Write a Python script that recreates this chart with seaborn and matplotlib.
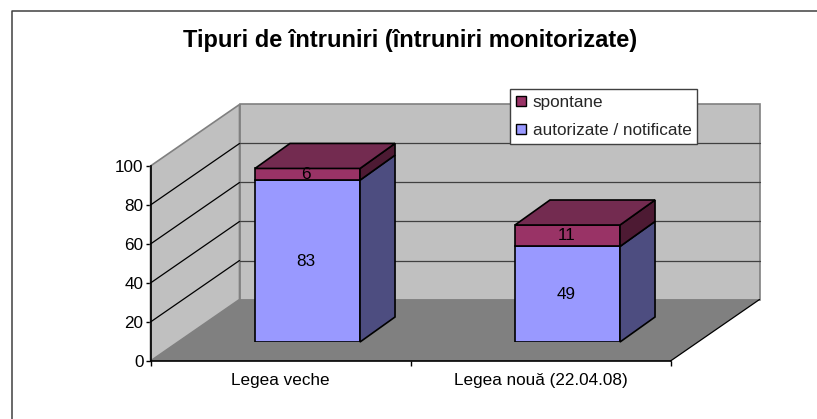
import pandas as pd
import matplotlib
matplotlib.use("Agg")
import matplotlib.pyplot as plt
from matplotlib.lines import Line2D
from matplotlib.patches import Polygon, Patch
import seaborn as sns

# Values
categories = ["Legea veche", "Legea nouă (22.04.08)"]
autorizate = [83, 49]
spontane = [6, 11]
y_ticks = [0, 20, 40, 60, 80, 100]

W, H = 817, 419
BLUE, BLUE_SIDE = "#9999ff", "#4d4d80"
RED, RED_TOP, RED_SIDE = "#993366", "#732b50", "#4d1a33"
FS = 12.3

sns.set_theme(style="white")
plt.rcParams["font.family"] = ["Liberation Sans", "DejaVu Sans"]

fig = plt.figure(figsize=(W / 100, H / 100), dpi=100, facecolor="white")
# only the left and top of the chart border are in the picture
fig.add_artist(Line2D([11.5 / W, 11.5 / W, 1], [0, 1 - 11.5 / H, 1 - 11.5 / H], transform=fig.transFigure,
                      color="#404040", lw=1.1))


def axes_px(left, right, bottom, top):
    return fig.add_axes([left / W, 1 - bottom / H, (right - left) / W, (bottom - top) / H])


# plot frame of the "front" plane, in pixels of the picture
FL, FR, FB, FT = 150.5, 670.5, 361, 166
ax = axes_px(FL, FR, FB, FT)
ax.set_xlim(-0.5, 1.5)
ax.set_ylim(0, 100)
ax.patch.set_alpha(0)
ux, uy = 260.0, 1.95  # px per data unit

# walls and floor
dx, dy = 89 / ux, 61.5 / uy
GREY = "#c0c0c0"
EDGE = "#808080"
ax.add_patch(Polygon([(-0.5 + dx, dy), (1.5 + dx, dy), (1.5 + dx, 100 + dy), (-0.5 + dx, 100 + dy)],
                     fc=GREY, ec=EDGE, lw=1.2, clip_on=False, zorder=1))
ax.add_patch(Polygon([(-0.5, 0), (-0.5 + dx, dy), (-0.5 + dx, 100 + dy), (-0.5, 100)],
                     fc=GREY, ec=EDGE, lw=1.2, clip_on=False, zorder=1))
ax.add_patch(Polygon([(-0.5, 0), (1.5, 0), (1.5 + dx, dy), (-0.5 + dx, dy)],
                     fc="#808080", ec="none", clip_on=False, zorder=1))
for v in y_ticks[1:-1]:
    ax.plot([-0.5, -0.5 + dx], [v, v + dy], color="black", lw=0.9, clip_on=False, zorder=2)
    ax.plot([-0.5 + dx, 1.5 + dx], [v + dy, v + dy], color="#404040", lw=0.9, clip_on=False, zorder=2)
ax.plot([1.5, 1.5 + dx], [0, dy], color="black", lw=0.9, clip_on=False, zorder=2)

ax.set_yticks(y_ticks)
ax.set_xticks([-0.5, 0.5, 1.5])
ax.set_xticklabels([])
ax.tick_params(axis="both", length=3.5, width=1, color="black", labelsize=FS, pad=1.5,
               left=True, bottom=True)
ax.tick_params(axis="y", labelcolor="black")
for s in ["top", "right"]:
    ax.spines[s].set_visible(False)
for s in ["left", "bottom"]:
    ax.spines[s].set_color("black")
    ax.spines[s].set_linewidth(1.2)
    ax.spines[s].set_zorder(5)
for i, name in enumerate(categories):
    ax.text(i, -6, name, ha="center", va="top", fontsize=FS, color="black", clip_on=False)

# bars sit a little deeper than the front plane
bx, by = 27, 19
ax_bars = axes_px(FL + bx, FR + bx, FB - by, FT - by)
ax_bars.patch.set_alpha(0)
df = pd.DataFrame({"lege": categories, "autorizate": autorizate, "spontane": spontane})
sns.barplot(data=df, x="lege", y="autorizate", color=BLUE, saturation=1, width=0.404,
            edgecolor="black", linewidth=1.2, ax=ax_bars, zorder=4)
sns.barplot(data=df, x="lege", y="spontane", bottom=df["autorizate"], color=RED, saturation=1, width=0.404,
            edgecolor="black", linewidth=1.2, ax=ax_bars, zorder=4)
ax_bars.set_xlim(-0.5, 1.5)
ax_bars.set_ylim(0, 100)
ax_bars.axis("off")

ddx, ddy = 35 / ux, 25 / uy
n = len(categories)
for low, up in zip(ax_bars.patches[:n], ax_bars.patches[n:]):
    x0, x1 = low.get_x(), low.get_x() + low.get_width()
    y0 = low.get_y()
    y1 = y0 + low.get_height()
    y2 = y1 + up.get_height()
    for pts, col in [
        ([(x1, y0), (x1 + ddx, y0 + ddy), (x1 + ddx, y1 + ddy), (x1, y1)], BLUE_SIDE),
        ([(x1, y1), (x1 + ddx, y1 + ddy), (x1 + ddx, y2 + ddy), (x1, y2)], RED_SIDE),
        ([(x0, y2), (x1, y2), (x1 + ddx, y2 + ddy), (x0 + ddx, y2 + ddy)], RED_TOP),
    ]:
        ax_bars.add_patch(Polygon(pts, fc=col, ec="black", lw=1.2, clip_on=False, zorder=4))

for i in range(n):
    ax_bars.text(i - 0.005, autorizate[i] / 2, str(autorizate[i]), ha="center", va="center",
                 fontsize=FS, color="black", zorder=6)
    ax_bars.text(i - 0.005, autorizate[i] + spontane[i] / 2, str(spontane[i]), ha="center", va="center",
                 fontsize=FS, color="black", zorder=6)

fig.text(410 / W, 1 - 41 / H, "Tipuri de întruniri (întruniri monitorizate)", ha="center", va="center",
         fontsize=17, fontweight="bold", color="black")

handles = [Patch(fc=RED, ec="black", lw=1), Patch(fc=BLUE, ec="black", lw=1)]
leg = fig.legend(handles, ["spontane", "autorizate / notificate"],
                 loc="upper left", bbox_to_anchor=(510.5 / W, 1 - 89 / H), fontsize=FS, frameon=True,
                 fancybox=False, framealpha=1, edgecolor="#404040", borderpad=0.35, labelspacing=0.77,
                 handlelength=0.58, handleheight=0.58, handletextpad=0.36, borderaxespad=0)
leg.get_frame().set_linewidth(1)

fig.savefig("out.png", dpi=100)
